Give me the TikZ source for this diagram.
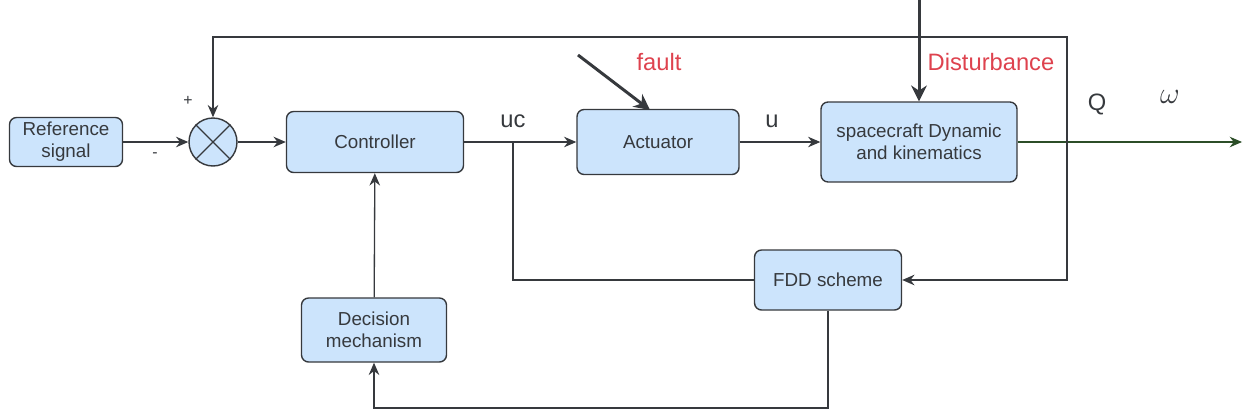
\documentclass[tikz,border=0pt]{standalone}
\usepackage{fontspec}
\setmainfont{Liberation Sans}
\usepackage{tikz}
\usepackage{xcolor}
\usetikzlibrary{arrows.meta,calc}

\definecolor{boxblue}{RGB}{204,228,252}
\definecolor{edgegray}{RGB}{54,57,61}
\definecolor{labelred}{RGB}{222,66,78}
\definecolor{outgreen}{RGB}{44,78,40}

\begin{document}
\begin{tikzpicture}[x=0.02cm, y=0.02cm,
    block/.style={draw=edgegray, fill=boxblue, rounded corners=4pt, line width=0.8pt,
      align=center, text=edgegray, font=\fontsize{10.7}{12.5}\selectfont, inner sep=0pt},
    line/.style={draw=edgegray, line width=0.75pt},
    arr/.style={line, -{Stealth[length=7pt,width=6pt]}},
    bigarr/.style={draw=edgegray, line width=1.7pt, -{Stealth[length=9pt,width=9pt]}},
    lbl/.style={text=edgegray, font=\fontsize{13.5}{15}\selectfont},
    redlbl/.style={text=labelred, font=\fontsize{13.5}{15}\selectfont}]
    \useasboundingbox (0,0) rectangle (1246,417);

    % Blocks
    \node[block, minimum width=2.26cm, minimum height=0.98cm] (ref) at (66,275) {Reference\\signal};
    \node[draw=edgegray, fill=boxblue, circle, line width=0.8pt, minimum size=0.96cm, inner sep=0pt] (sum) at (213,275) {};
    \draw[line] (sum.north west) -- (sum.south east);
    \draw[line] (sum.north east) -- (sum.south west);
    \node[block, minimum width=3.54cm, minimum height=1.22cm] (ctrl) at (375,275) {Controller};
    \node[block, minimum width=3.24cm, minimum height=1.3cm] (act) at (658,275) {Actuator};
    \node[block, minimum width=3.92cm, minimum height=1.6cm] (dyn) at (919,275) {spacecraft Dynamic\\and kinematics};
    \node[block, minimum width=2.94cm, minimum height=1.2cm] (fdd) at (828,137) {FDD scheme};
    \node[block, minimum width=2.9cm, minimum height=1.28cm] (dec) at (374,87) {Decision\\mechanism};

    % Branch points and free ends
    \coordinate (ucb) at (513,275);
    \coordinate (tap) at (1067,275);
    \coordinate (topr) at (1067,380);
    \coordinate (fddlow) at (828,9);
    \coordinate (out) at (1242,275);
    \coordinate (faultsrc) at (578,362);
    \coordinate (faulttip) at (650,307);
    \coordinate (distsrc) at (919,417);

    % Forward path
    \draw[arr] (ref) -- (sum);
    \draw[arr] (sum) -- (ctrl);
    \draw[arr] (ctrl) -- (act);
    \draw[arr] (act) -- (dyn);
    \draw[line width=0.75pt, draw=outgreen, -{Stealth[length=7pt,width=6pt]}] (dyn) -- (out);

    % Feedback loops
    \draw[arr] (tap) -- (topr) -| (sum.north);
    \draw[arr] (tap) |- (fdd.east);
    \draw[line] (ucb) |- (fdd.west);
    \draw[arr] (fdd.south) -- (fddlow) -| (dec.south);
    \draw[arr] (dec) -- (ctrl);

    % Fault and disturbance inputs
    \draw[bigarr] (faultsrc) -- (faulttip);
    \draw[bigarr] (distsrc) -- (dyn.north);

    % Labels
    \node[text=edgegray, font=\small] (plus) at (188,316) {+};
    \node[text=edgegray, font=\small] (minus) at (155,262) {-};
    \node[lbl] (uclbl) at (513,296) {uc};
    \node[lbl] (ulbl) at (772,296) {u};
    \node[redlbl] (faultlbl) at (659,355) {fault};
    \node[redlbl] (distlbl) at (991,355) {Disturbance};
    \node[lbl] (qlbl) at (1097,313) {Q};
    \node[lbl, font=\fontsize{16}{18}\selectfont] (wlbl) at (1170,320) {$\omega$};
\end{tikzpicture}
\end{document}
